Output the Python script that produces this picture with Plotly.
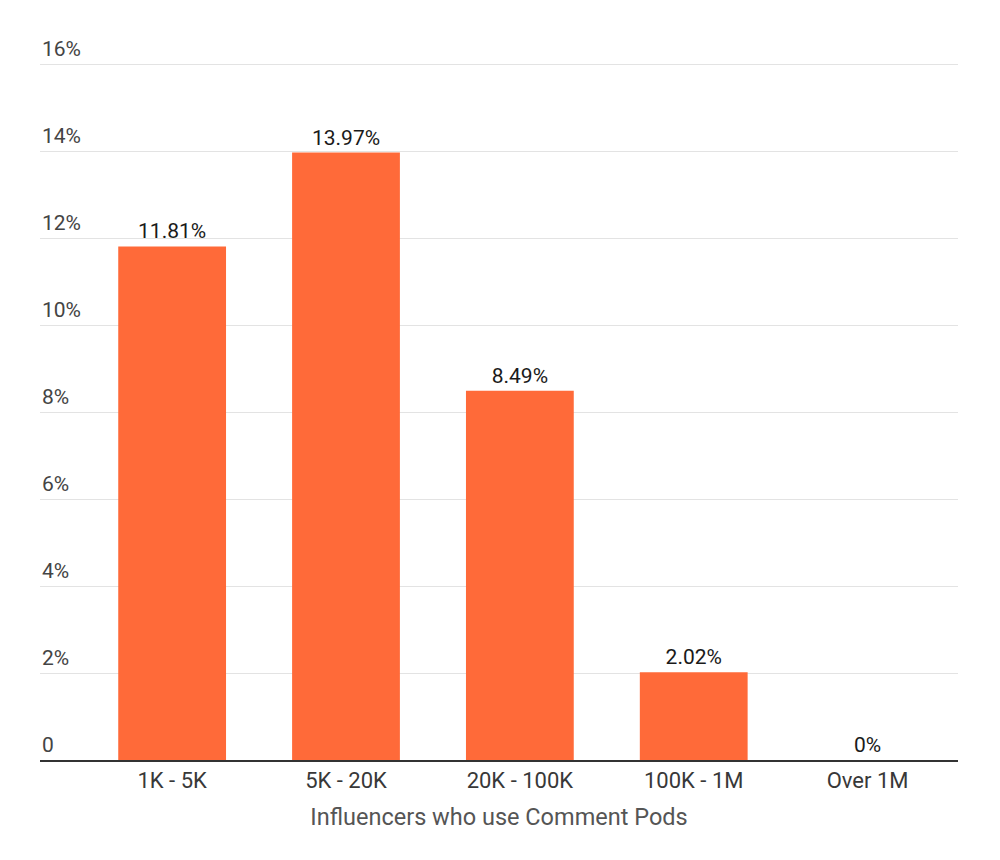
import plotly.graph_objects as go

# data
categories = ['1K - 5K', '5K - 20K', '20K - 100K', '100K - 1M', 'Over 1M']
share = [11.81, 13.97, 8.49, 2.02, 0]
bar_labels = ['11.81%', '13.97%', '8.49%', '2.02%', '0%']
tick_vals = [0, 2, 4, 6, 8, 10, 12, 14, 16]
tick_text = ['0', '2%', '4%', '6%', '8%', '10%', '12%', '14%', '16%']

fig = go.Figure(go.Bar(
    x=categories, y=share, text=bar_labels, textposition='outside',
    textfont=dict(size=21, color='#1a1a1a'),
    marker=dict(color='#FF6A39', line=dict(width=0)),
    width=0.62, cliponaxis=False
))

# y labels sit above the gridlines, left aligned
for v, t in zip(tick_vals, tick_text):
    fig.add_annotation(x=0, xref='paper', xanchor='left', y=v, yref='y', yanchor='bottom',
                       text=t, showarrow=False, yshift=1,
                       font=dict(size=21, color='#444444'))

fig.update_layout(
    width=1000, height=860,
    margin=dict(l=32, r=50, t=55, b=108),
    plot_bgcolor='white', paper_bgcolor='white',
    font=dict(family='Roboto', size=21, color='#444444'),
    showlegend=False
)
fig.update_xaxes(
    range=[-0.76, 4.52], showgrid=False,
    showline=True, linecolor='#333333', linewidth=2,
    ticks='', tickfont=dict(size=22, color='#383838'),
    title=dict(text='Influencers who use Comment Pods', font=dict(size=23.5, color='#555555'), standoff=16)
)
fig.update_yaxes(
    range=[0, 16.03], tickvals=tick_vals, showticklabels=False,
    showgrid=True, gridcolor='#e3e3e3', gridwidth=1,
    zeroline=False, showline=False, ticks=''
)

fig.write_html("out.html")
